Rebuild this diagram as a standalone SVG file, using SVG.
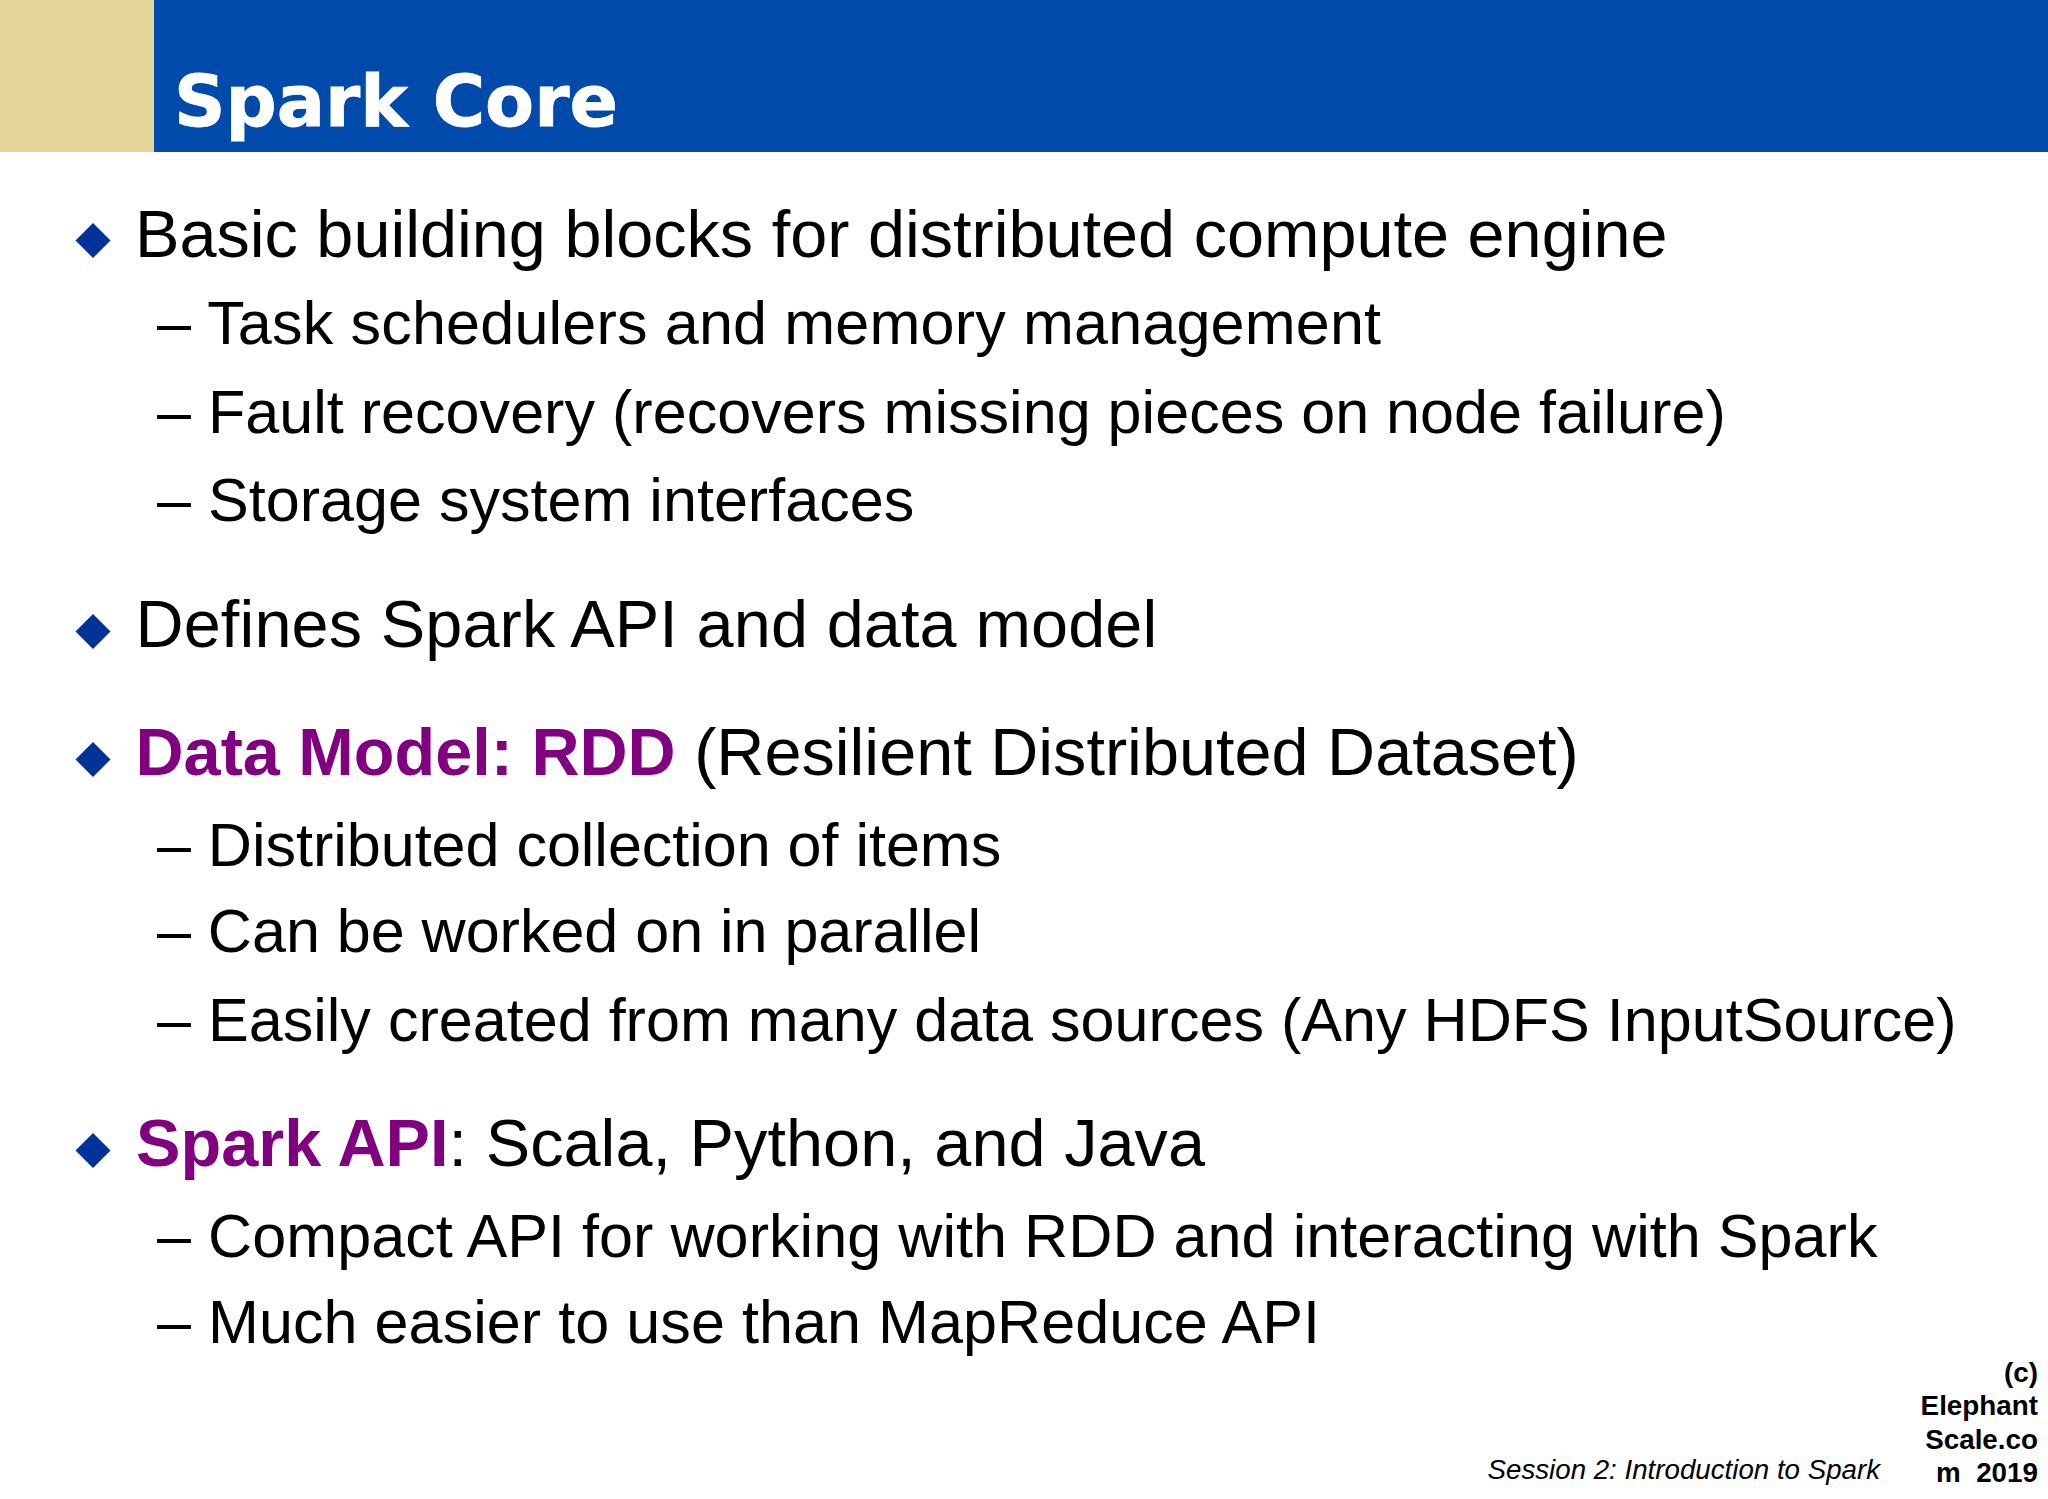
<svg xmlns="http://www.w3.org/2000/svg" width="2048" height="1499" viewBox="0 0 2048 1499">
<style>
text{font-family:"Liberation Sans",Arial,sans-serif;fill:#000}
.b{font-size:66.6px}
.s{font-size:61.1px}
.p{fill:#800080;font-weight:bold}
.d{fill:#003399}
.c{font-size:27.8px;font-weight:bold;text-anchor:end}
</style>
<defs><polygon id="dm" points="0,-17.500 17.500,0 0,17.500 -17.500,0" class="d"/></defs>
<rect width="2048" height="1499" fill="#fff"/>
<g id="header">
<rect x="0" y="0" width="154" height="152" fill="#e6d69a"/>
<rect x="154" y="0" width="1894" height="152" fill="#004aab"/>
<text x="174" y="126" style="font-family:'DejaVu Sans',Verdana,sans-serif;font-weight:bold;font-size:71.5px;fill:#fff;stroke:#fff;stroke-width:0.8px">Spark Core</text>
</g>
<g id="bullets">
<use href="#dm" x="93" y="240.500"/>
<use href="#dm" x="93" y="631.500"/>
<use href="#dm" x="93" y="759.500"/>
<use href="#dm" x="93" y="1150.500"/>
</g>
<g id="body">
<text class="b" x="135" y="257">Basic building blocks for distributed compute engine</text>
<text class="s" x="157" y="344" letter-spacing="0.16">– Task schedulers and memory management</text>
<text class="s" x="157" y="433">– Fault recovery (recovers missing pieces on node failure)</text>
<text class="s" x="157" y="521">– Storage system interfaces</text>
<text class="b" x="135.500" y="647" letter-spacing="0.12">Defines Spark API and data model</text>
<text class="b" x="135.500" y="775"><tspan class="p">Data Model: RDD</tspan> (Resilient Distributed Dataset)</text>
<text class="s" x="157" y="866" letter-spacing="-0.04">– Distributed collection of items</text>
<text class="s" x="157" y="952" letter-spacing="-0.04">– Can be worked on in parallel</text>
<text class="s" x="157" y="1041">– Easily created from many data sources (Any HDFS InputSource)</text>
<text class="b" x="136" y="1166" letter-spacing="0.05"><tspan class="p">Spark API</tspan>: Scala, Python, and Java</text>
<text class="s" x="157" y="1257" letter-spacing="0.04">– Compact API for working with RDD and interacting with Spark</text>
<text class="s" x="157" y="1343" letter-spacing="0.04">– Much easier to use than MapReduce API</text>
</g>
<g id="footer">
<text x="1880" y="1479" style="font-size:27.7px;font-style:italic;text-anchor:end">Session 2: Introduction to Spark</text>
<text class="c" x="2038" y="1382">(c)</text>
<text class="c" x="2038" y="1415">Elephant</text>
<text class="c" x="2038" y="1449">Scale.co</text>
<text class="c" x="2038" y="1482">m&#160;&#160;2019</text>
</g>
</svg>
